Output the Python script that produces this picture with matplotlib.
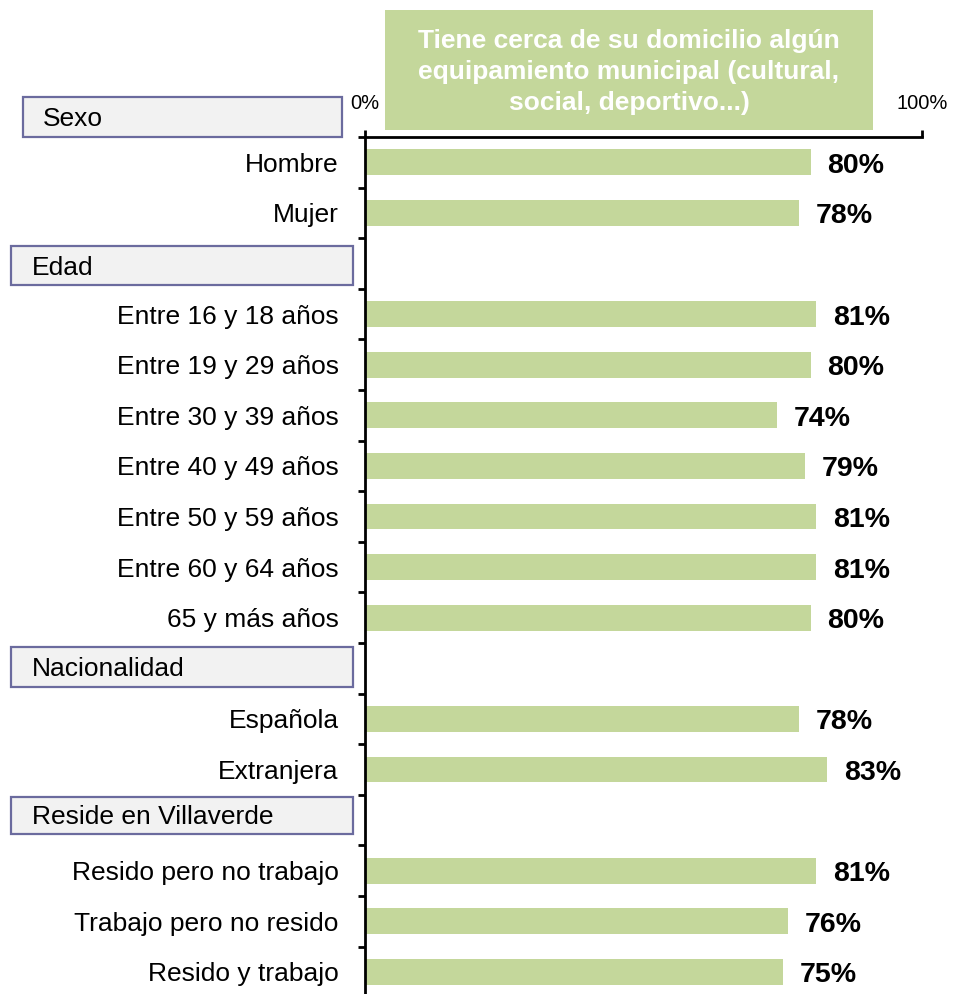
import matplotlib
matplotlib.use("Agg")
import matplotlib.pyplot as plt
from matplotlib.patches import Rectangle

plt.rcParams['font.family'] = ['Liberation Sans', 'DejaVu Sans']

# Rows of the chart, top to bottom (None marks a group header row)
categories = ["Hombre", "Mujer", None,
              "Entre 16 y 18 años", "Entre 19 y 29 años", "Entre 30 y 39 años",
              "Entre 40 y 49 años", "Entre 50 y 59 años", "Entre 60 y 64 años",
              "65 y más años", None,
              "Española", "Extranjera", None,
              "Resido pero no trabajo", "Trabajo pero no resido", "Resido y trabajo"]
values = [80, 78, None,
          81, 80, 74, 79, 81, 81, 80, None,
          78, 83, None,
          81, 76, 75]
groups = ["Sexo", "Edad", "Nacionalidad", "Reside en Villaverde"]
title = "Tiene cerca de su domicilio algún\nequipamiento municipal (cultural,\nsocial, deportivo...)"
xtick_labels = ["0%", "100%"]

W, H = 956, 994
fig = plt.figure(figsize=(W / 100, H / 100), dpi=100)

def fx(x):
    return x / W

def fy(y):
    return 1 - y / H

BAR = "#C4D79B"
n = len(categories)
row_px = 50.6
top_px = 137
ax_h = n * row_px
ax = fig.add_axes([fx(365), fy(top_px + ax_h), fx(922) - fx(365), ax_h / H])

ys = list(range(n))
for i, (c, v) in enumerate(zip(categories, values)):
    if v is None:
        continue
    ax.barh(i, v / 100, height=0.51, color=BAR, edgecolor="none")
    ax.annotate(f"{v}%", xy=(v / 100, i), xytext=(12, -2.5), textcoords="offset points",
                ha="left", va="center", fontsize=20.5, fontweight="bold", color="black")

ax.set_xlim(0, 1)
ax.set_ylim(n - 0.5, -0.5)

ax.set_yticks(ys)
ax.set_yticklabels([c if c else "" for c in categories], fontsize=19)
ax.set_yticks([i - 0.5 for i in range(n + 1)], minor=True)
ax.tick_params(axis="y", which="major", length=0, pad=19)
ax.tick_params(axis="y", which="minor", length=5, width=2, direction="out")

ax.xaxis.tick_top()
ax.set_xticks([0, 1])
ax.set_xticklabels(xtick_labels, fontsize=14.5)
ax.tick_params(axis="x", length=5, width=2, pad=12, direction="out")

for s in ["right", "bottom"]:
    ax.spines[s].set_visible(False)
for s in ["top", "left"]:
    ax.spines[s].set_linewidth(2)
    ax.spines[s].set_color("black")

# Group header boxes
EDGE = "#6B6B9E"
FILL = "#F2F2F2"
header_boxes = [(23, 97, 342, 137, 43), (11, 246, 353, 285, 32),
                (11, 647, 353, 687, 32), (11, 797, 353, 834, 32)]
for name, (x0, y0, x1, y1, tx) in zip(groups, header_boxes):
    fig.patches.append(Rectangle((fx(x0), fy(y1)), fx(x1) - fx(x0), fy(y0) - fy(y1),
                                 transform=fig.transFigure, facecolor=FILL,
                                 edgecolor=EDGE, linewidth=1.6))
    fig.text(fx(tx), fy((y0 + y1) / 2 + 2), name, ha="left", va="center", fontsize=19)

# Title box
fig.patches.append(Rectangle((fx(385), fy(130)), fx(873) - fx(385), fy(10) - fy(130),
                             transform=fig.transFigure, facecolor=BAR, edgecolor="none"))
fig.text(fx(629), fy(72), title, ha="center", va="center", fontsize=19,
         fontweight="bold", color="white", linespacing=1.36)

fig.savefig("out.png", dpi=100)
